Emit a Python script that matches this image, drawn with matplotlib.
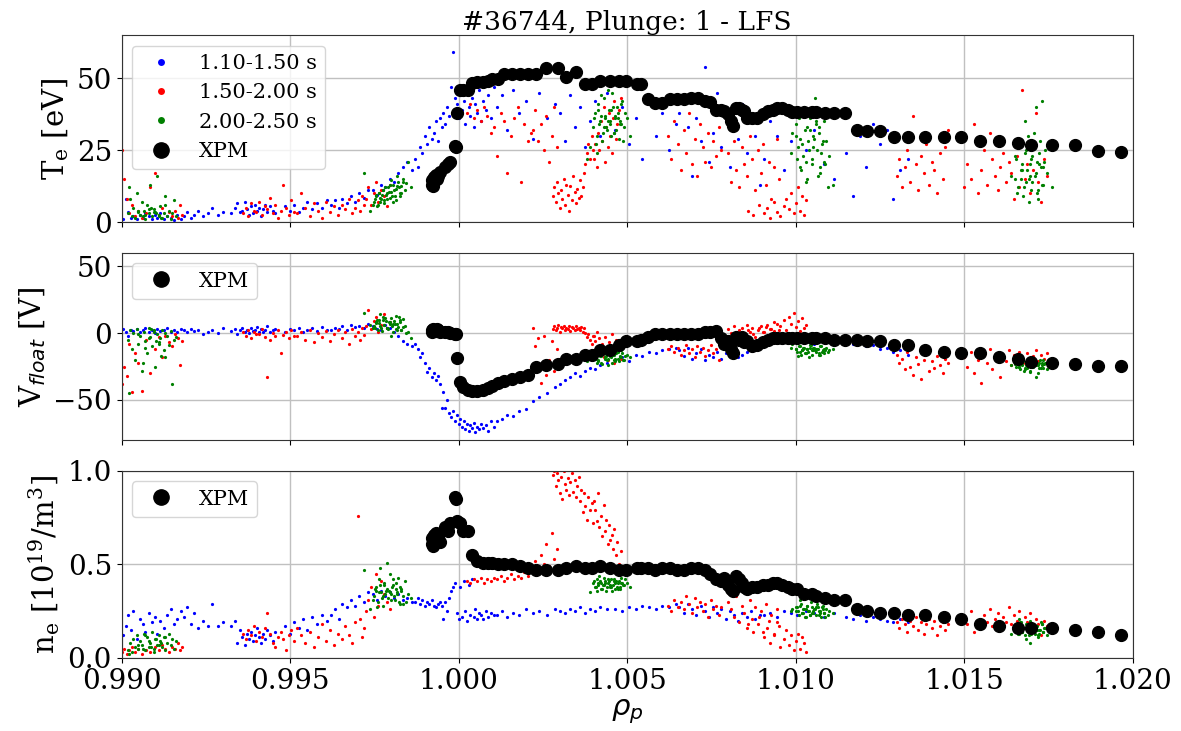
import numpy as np
import matplotlib
matplotlib.use('Agg')
import matplotlib.pyplot as plt

plt.rcParams['font.family'] = 'DejaVu Serif'
plt.rcParams['mathtext.fontset'] = 'custom'
plt.rcParams['mathtext.rm'] = 'DejaVu Serif'
plt.rcParams['mathtext.it'] = 'DejaVu Sans:italic'

# ---- 1.10-1.50 s (blue) ----
b_rho = [0.99005, 0.99012, 0.99020, 0.99028, 0.99035, 0.99045, 0.99055, 0.99062, 0.99070, 0.99080,
         0.99090, 0.99098, 0.99105, 0.99115, 0.99125, 0.99135, 0.99145, 0.99155, 0.99165, 0.99175,
         0.99185, 0.99195, 0.99205, 0.99215, 0.99228, 0.99240, 0.99255, 0.99268, 0.99285, 0.99300,
         0.99325, 0.99335, 0.99342, 0.99350, 0.99358, 0.99365, 0.99372, 0.99378, 0.99385, 0.99390,
         0.99396, 0.99402, 0.99408, 0.99414, 0.99420, 0.99426, 0.99432, 0.99440, 0.99448, 0.99456,
         0.99485, 0.99500, 0.99512, 0.99525, 0.99538, 0.99550, 0.99565, 0.99580, 0.99595, 0.99610,
         0.99620, 0.99632, 0.99645, 0.99655, 0.99668, 0.99680, 0.99692, 0.99705, 0.99718, 0.99730,
         0.99745, 0.99758, 0.99770, 0.99782, 0.99795, 0.99808, 0.99820, 0.99835, 0.99848, 0.99862,
         0.99870, 0.99878, 0.99885, 0.99892, 0.99900, 0.99907, 0.99913, 0.99920, 0.99926, 0.99932,
         0.99938, 0.99944, 0.99950, 0.99955, 0.99960, 0.99966, 0.99972, 0.99978, 0.99984, 0.99990,
         0.99995, 1.00000, 1.00005, 1.00010, 1.00015, 1.00020, 1.00025, 1.00030, 1.00035, 1.00040,
         1.00045, 1.00050, 1.00055, 1.00060, 1.00066, 1.00072, 1.00080, 1.00088, 1.00096, 1.00105,
         1.00115, 1.00130, 1.00145, 1.00160, 1.00180, 1.00200, 1.00220, 1.00240, 1.00262, 1.00285,
         1.00300, 1.00315, 1.00330, 1.00345, 1.00360, 1.00375, 1.00390, 1.00405, 1.00420, 1.00440,
         1.00465, 1.00485, 1.00505, 1.00525, 1.00545, 1.00565, 1.00585, 1.00605, 1.00625, 1.00645,
         1.00655, 1.00668, 1.00680, 1.00692, 1.00705, 1.00718, 1.00730, 1.00742, 1.00755, 1.00768,
         1.00780, 1.00792, 1.00805, 1.00818, 1.00830, 1.00842, 1.00855, 1.00868, 1.00880, 1.00895,
         1.00905, 1.00925, 1.00945, 1.00965, 1.00985, 1.01005, 1.01030, 1.01055, 1.01085, 1.01115,
         1.01150, 1.01170, 1.01190, 1.01210, 1.01230, 1.01250, 1.01270, 1.01290, 1.01310, 1.01335]
b_te = [1.0, 8.0, 3.5, 1.5, 2.0, 1.0, 2.5, 1.5, 3.0, 2.0,
        1.0, 2.5, 1.5, 3.0, 1.0, 2.0, 1.5, 0.8, 2.5, 1.2,
        2.0, 3.5, 1.5, 2.5, 4.0, 2.0, 3.0, 5.0, 2.5, 3.5,
        3.0, 5.0, 6.5, 3.5, 4.0, 7.0, 4.5, 2.5, 5.5, 3.0,
        6.0, 4.0, 5.0, 2.0, 4.5, 6.0, 3.5, 5.5, 4.0, 3.0,
        5.5, 4.0, 6.0, 3.5, 5.0, 7.0, 4.5, 6.5, 5.0, 7.5,
        6.0, 7.5, 5.0, 8.0, 6.5, 9.0, 7.0, 10.0, 8.5, 11.0,
        11.0, 9.5, 13.0, 12.0, 15.0, 14.0, 17.0, 19.0, 21.0, 18.0,
        22.0, 19.0, 26.0, 24.0, 30.0, 27.0, 33.0, 29.0, 31.0, 35.0,
        28.0, 36.0, 33.0, 38.0, 34.0, 40.0, 37.0, 47.0, 59.0, 43.0,
        41.0, 36.0, 44.0, 39.0, 42.0, 34.0, 45.0, 40.0, 37.0, 43.0,
        33.0, 41.0, 38.0, 46.0, 35.0, 42.0, 39.0, 44.0, 36.0, 47.0,
        40.0, 44.0, 32.0, 46.0, 38.0, 42.0, 29.0, 45.0, 36.0, 41.0,
        38.0, 28.0, 44.0, 33.0, 40.0, 26.0, 35.0, 42.0, 30.0, 45.0,
        32.0, 40.0, 27.0, 36.0, 22.0, 44.0, 30.0, 38.0, 25.0, 34.0,
        38.0, 42.0, 33.0, 16.0, 36.0, 28.0, 54.0, 21.0, 31.0, 45.0,
        26.0, 37.0, 19.0, 33.0, 29.0, 41.0, 24.0, 35.0, 30.0, 13.0,
        22.0, 35.0, 30.0, 18.0, 28.0, 37.0, 25.0, 32.0, 20.0, 15.0,
        24.0, 9.0, 30.0, 19.0, 34.0, 27.0, 32.0, 8.0, 18.0, 22.0]
b_vf = [3.0, 1.0, -2.0, 2.5, 1.5, 3.0, 0.5, 2.0, 4.0, 1.0,
        2.5, 0.0, 3.0, 1.5, 2.0, 3.5, 1.0, 2.5, 0.5, 3.0,
        2.0, 0.5, 3.0, 1.5, 2.5, -1.0, 1.0, 2.0, 0.0, 3.5,
        1.5, 3.0, -0.5, 2.0, 4.0, 1.0, 2.5, 0.0, 3.5, 1.5,
        2.0, 4.5, 0.5, 3.0, 1.0, 2.5, 5.0, 0.5, 2.0, 3.0,
        1.0, 3.0, 2.5, 4.0, 0.5, 2.0, 3.5, 1.5, 4.5, 2.0,
        2.0, 4.0, 3.0, 5.5, 2.5, 6.0, 4.5, 5.0, 3.5, 7.0,
        5.0, 3.0, 2.0, 6.0, 4.0, 1.0, -2.0, -6.0, -8.0, -10.0,
        -8.0, -12.0, -18.0, -15.0, -22.0, -29.0, -26.0, -33.0, -30.0, -35.0,
        -32.0, -38.0, -56.0, -44.0, -56.0, -50.0, -60.0, -63.0, -58.0, -66.0,
        -61.0, -68.0, -64.0, -70.0, -66.0, -72.0, -68.0, -73.0, -69.0, -71.0,
        -67.0, -74.0, -70.0, -72.0, -68.0, -71.0, -69.0, -73.0, -66.0, -70.0,
        -66.0, -64.0, -61.0, -62.0, -58.0, -57.0, -51.0, -48.0, -45.0, -40.0,
        -38.0, -35.0, -33.0, -30.0, -32.0, -28.0, -26.0, -27.0, -24.0, -22.0,
        -20.0, -18.0, -21.0, -16.0, -17.0, -14.0, -15.0, -13.0, -12.0, -11.0,
        -13.0, -17.0, -11.0, -19.0, -15.0, -12.0, -20.0, -16.0, -18.0, -14.0,
        -19.0, -15.0, -17.0, -13.0, -18.0, -16.0, -14.0, -12.0, -10.0, -9.0,
        -8.0, -6.0, -5.0, -7.0, -4.0, -6.0, -5.0, -8.0, -7.0, -9.0,
        -6.0, -8.0, -7.0, -10.0, -9.0, -12.0, -11.0, -14.0, -13.0, -16.0]
b_ne = [0.12, 0.17, 0.23, 0.15, 0.25, 0.10, 0.21, 0.18, 0.14, 0.24,
        0.19, 0.22, 0.13, 0.20, 0.16, 0.23, 0.26, 0.18, 0.21, 0.25,
        0.22, 0.27, 0.18, 0.24, 0.16, 0.20, 0.17, 0.29, 0.17, 0.19,
        0.17, 0.20, 0.08, 0.15, 0.11, 0.07, 0.13, 0.10, 0.14, 0.09,
        0.12, 0.16, 0.11, 0.08, 0.13, 0.10, 0.15, 0.12, 0.09, 0.14,
        0.17, 0.13, 0.19, 0.16, 0.21, 0.15, 0.22, 0.18, 0.23, 0.20,
        0.23, 0.26, 0.21, 0.29, 0.27, 0.31, 0.28, 0.33, 0.30, 0.35,
        0.34, 0.31, 0.36, 0.33, 0.35, 0.32, 0.34, 0.31, 0.32, 0.30,
        0.30, 0.32, 0.29, 0.31, 0.28, 0.30, 0.29, 0.31, 0.28, 0.27,
        0.29, 0.30, 0.28, 0.21, 0.30, 0.25, 0.32, 0.36, 0.38, 0.40,
        0.24, 0.21, 0.38, 0.22, 0.41, 0.25, 0.20, 0.39, 0.23, 0.42,
        0.22, 0.26, 0.21, 0.24, 0.23, 0.21, 0.25, 0.22, 0.24, 0.23,
        0.23, 0.25, 0.22, 0.24, 0.23, 0.26, 0.24, 0.25, 0.23, 0.26,
        0.25, 0.24, 0.26, 0.25, 0.27, 0.24, 0.26, 0.25, 0.27, 0.26,
        0.26, 0.25, 0.27, 0.26, 0.28, 0.27, 0.26, 0.28, 0.27, 0.29,
        0.27, 0.24, 0.29, 0.26, 0.23, 0.28, 0.25, 0.22, 0.27, 0.24,
        0.26, 0.21, 0.25, 0.23, 0.20, 0.24, 0.22, 0.25, 0.21, 0.23,
        0.23, 0.24, 0.22, 0.25, 0.24, 0.23, 0.25, 0.24, 0.22, 0.24,
        0.22, 0.21, 0.23, 0.20, 0.22, 0.21, 0.20, 0.19, 0.21, 0.19]

# ---- 1.50-2.00 s (red) ----
r_rho = [0.99002, 0.99008, 0.99015, 0.99022, 0.99030, 0.99040, 0.99050, 0.99060, 0.99072, 0.99085,
         0.99098, 0.99110, 0.99120, 0.99130, 0.99140, 0.99150, 0.99158, 0.99166, 0.99172, 0.99180,
         0.99360, 0.99368, 0.99376, 0.99384, 0.99392, 0.99400, 0.99408, 0.99416, 0.99424, 0.99432,
         0.99440, 0.99448, 0.99456, 0.99464, 0.99472, 0.99480, 0.99488, 0.99496, 0.99504, 0.99512,
         0.99520, 0.99532, 0.99545, 0.99558, 0.99570, 0.99582, 0.99594, 0.99606, 0.99618, 0.99630,
         0.99642, 0.99654, 0.99664, 0.99674, 0.99684, 0.99692, 0.99700, 0.99707, 0.99714, 0.99720,
         0.99725, 0.99732, 0.99740, 0.99748, 0.99755, 0.99762, 0.99770, 0.99778, 0.99786, 0.99795,
         1.00025, 1.00035, 1.00045, 1.00055, 1.00065, 1.00075, 1.00085, 1.00095, 1.00105, 1.00115,
         1.00125, 1.00135, 1.00145, 1.00155, 1.00165, 1.00175, 1.00185, 1.00195, 1.00205, 1.00215,
         1.00220, 1.00228, 1.00236, 1.00244, 1.00252, 1.00260, 1.00268, 1.00276, 1.00284, 1.00292,
         1.00280, 1.00284, 1.00288, 1.00292, 1.00296, 1.00300, 1.00304, 1.00308, 1.00312, 1.00316,
         1.00320, 1.00324, 1.00328, 1.00332, 1.00336, 1.00340, 1.00344, 1.00348, 1.00352, 1.00356,
         1.00360, 1.00364, 1.00368, 1.00372, 1.00376, 1.00380, 1.00385, 1.00390, 1.00395, 1.00400,
         1.00402, 1.00406, 1.00410, 1.00414, 1.00418, 1.00422, 1.00426, 1.00430, 1.00434, 1.00438,
         1.00442, 1.00446, 1.00450, 1.00454, 1.00458, 1.00462, 1.00466, 1.00470, 1.00476, 1.00482,
         1.00620, 1.00630, 1.00640, 1.00650, 1.00660, 1.00668, 1.00676, 1.00684, 1.00692, 1.00700,
         1.00708, 1.00716, 1.00724, 1.00732, 1.00740, 1.00748, 1.00756, 1.00764, 1.00772, 1.00780,
         1.00800, 1.00808, 1.00816, 1.00824, 1.00832, 1.00840, 1.00848, 1.00856, 1.00864, 1.00872,
         1.00880, 1.00888, 1.00896, 1.00904, 1.00912, 1.00920, 1.00928, 1.00936, 1.00944, 1.00952,
         1.00860, 1.00875, 1.00890, 1.00905, 1.00915, 1.00925, 1.00935, 1.00945, 1.00955, 1.00965,
         1.00972, 1.00980, 1.00987, 1.00994, 1.01000, 1.01006, 1.01012, 1.01018, 1.01024, 1.01030,
         1.01300, 1.01308, 1.01316, 1.01324, 1.01332, 1.01340, 1.01348, 1.01356, 1.01364, 1.01372,
         1.01380, 1.01388, 1.01396, 1.01404, 1.01412, 1.01420, 1.01428, 1.01436, 1.01444, 1.01452,
         1.01500, 1.01510, 1.01520, 1.01530, 1.01540, 1.01550, 1.01560, 1.01568, 1.01576, 1.01584,
         1.01592, 1.01600, 1.01608, 1.01616, 1.01624, 1.01632, 1.01640, 1.01648, 1.01656, 1.01664,
         1.01672, 1.01680, 1.01688, 1.01696, 1.01704, 1.01712, 1.01720, 1.01728, 1.01736, 1.01745]
r_te = [25.0, 15.0, 8.0, 3.0, 6.0, 2.0, 4.0, 1.5, 3.0, 12.0,
        17.0, 2.5, 5.0, 27.0, 3.5, 2.0, 4.0, 1.5, 6.0, 2.5,
        3.0, 5.0, 2.0, 6.5, 4.0, 3.5, 7.0, 2.5, 5.5, 4.5,
        8.5, 3.0, 6.0, 1.5, 4.0, 13.0, 5.0, 2.5, 7.5, 3.5,
        3.0, 10.0, 5.0, 2.0, 6.5, 4.0, 1.5, 7.0, 3.5, 5.5,
        2.5, 6.0, 4.5, 8.0, 3.0, 5.0, 7.5, 4.0, 9.0, 6.0,
        8.0, 12.0, 6.0, 10.0, 14.0, 7.0, 11.0, 9.0, 5.5, 13.0,
        38.0, 41.0, 36.0, 39.0, 35.0, 40.0, 37.0, 31.0, 33.0, 23.0,
        38.0, 35.0, 17.0, 30.0, 36.0, 40.0, 14.0, 34.0, 28.0, 31.0,
        32.0, 39.0, 28.0, 34.0, 25.0, 37.0, 21.0, 30.0, 40.0, 26.0,
        9.0, 12.0, 7.0, 14.0, 10.0, 5.0, 11.0, 8.0, 15.0, 6.0,
        13.0, 9.5, 4.0, 12.5, 7.5, 16.0, 10.5, 6.5, 11.5, 8.5,
        14.5, 9.0, 12.0, 17.0, 20.0, 24.0, 27.0, 22.0, 30.0, 25.0,
        22.0, 27.0, 19.0, 31.0, 25.0, 35.0, 28.0, 40.0, 21.0, 33.0,
        26.0, 38.0, 30.0, 24.0, 36.0, 42.0, 29.0, 34.0, 39.0, 43.0,
        30.0, 22.0, 35.0, 27.0, 18.0, 32.0, 24.0, 38.0, 20.0, 29.0,
        16.0, 34.0, 26.0, 21.0, 31.0, 19.0, 28.0, 23.0, 33.0, 25.0,
        24.0, 14.0, 28.0, 18.0, 12.0, 26.0, 20.0, 16.0, 30.0, 22.0,
        11.0, 25.0, 17.0, 27.0, 13.0, 21.0, 8.0, 19.0, 29.0, 15.0,
        4.0, 2.5, 6.0, 3.0, 5.0, 1.5, 7.0, 3.5, 2.0, 5.5,
        8.0, 4.5, 10.0, 3.0, 6.5, 12.0, 4.0, 9.0, 2.5, 7.5,
        16.0, 22.0, 12.0, 19.0, 25.0, 14.0, 37.0, 20.0, 11.0, 23.0,
        17.0, 27.0, 13.0, 21.0, 18.0, 10.0, 24.0, 15.0, 26.0, 32.0,
        12.0, 20.0, 15.0, 34.0, 10.0, 18.0, 25.0, 13.0, 31.0, 22.0,
        16.0, 11.0, 19.0, 24.0, 14.0, 21.0, 17.0, 8.0, 23.0, 12.0,
        46.0, 15.0, 20.0, 10.0, 18.0, 38.0, 14.0, 7.0, 22.0, 16.0]
r_vf = [-38.0, -25.0, -32.0, -8.0, -44.0, -15.0, -22.0, -43.0, -5.0, -30.0,
        -12.0, -3.0, -18.0, -2.0, -7.0, -10.0, -1.0, -4.0, -24.0, -6.0,
        1.0, -2.0, 2.5, -4.0, 0.5, -1.0, -1.0, 3.0, -3.0, -33.0,
        -5.0, 0.0, -2.5, 2.0, -15.0, -1.5, 1.0, -4.0, 2.5, -2.0,
        -2.0, 1.0, -5.0, 2.5, -7.0, 0.0, -3.0, 1.5, -6.0, -1.0,
        2.0, -4.0, 0.5, -8.0, 3.0, -2.5, 1.0, -5.5, 4.0, -1.5,
        5.0, 17.0, 3.0, 9.0, 12.0, 1.0, 6.0, 14.0, 4.0, 8.0,
        -43.0, -42.0, -44.0, -41.0, -40.0, -42.0, -39.0, -40.0, -38.0, -37.0,
        -38.0, -36.0, -37.0, -35.0, -36.0, -34.0, -35.0, -33.0, -34.0, -32.0,
        4.0, -10.0, -4.0, -37.0, -2.0, -31.0, -20.0, -6.0, -28.0, -12.0,
        3.0, 5.0, 2.0, 4.0, 6.0, 1.0, 4.5, 3.5, 5.5, 2.5,
        4.0, 3.0, 5.0, 1.5, 4.5, 3.5, 2.0, 5.0, 3.0, 4.0,
        2.5, 4.5, 1.0, 3.5, 0.0, -3.0, -1.0, -5.0, -8.0, -2.0,
        -2.0, -6.0, 1.0, -10.0, -4.0, -14.0, -8.0, -18.0, -3.0, -12.0,
        -20.0, -7.0, -16.0, -1.0, -11.0, -22.0, -5.0, -13.0, -9.0, -19.0,
        -12.0, -10.0, -14.0, -11.0, -16.0, -13.0, -9.0, -15.0, -12.0, -18.0,
        -10.0, -14.0, -11.0, -17.0, -13.0, -9.0, -15.0, -12.0, -20.0, -10.0,
        3.0, 0.0, 5.0, -2.0, 2.0, 4.0, -1.0, 6.0, 1.0, 3.5,
        -3.0, 2.5, 5.5, 0.5, 4.5, -1.5, 3.0, 1.5, 6.5, 2.0,
        2.0, -1.0, 4.0, 1.0, 6.0, 3.0, 8.0, 0.0, 5.0, 10.0,
        2.5, 12.0, 7.0, 15.0, 4.5, 9.0, 1.5, 11.0, 3.5, 6.0,
        -16.0, -22.0, -19.0, -27.0, -14.0, -25.0, -31.0, -18.0, -23.0, -34.0,
        -20.0, -15.0, -28.0, -21.0, -26.0, -17.0, -24.0, -30.0, -19.0, -22.0,
        -18.0, -25.0, -14.0, -30.0, -20.0, -37.0, -16.0, -22.0, -12.0, -27.0,
        -19.0, -15.0, -33.0, -17.0, -21.0, -13.0, -24.0, -16.0, -19.0, -14.0,
        -18.0, -22.0, -15.0, -20.0, -17.0, -13.0, -21.0, -16.0, -19.0, -15.0]
r_ne = [0.03, 0.05, 0.02, 0.04, 0.06, 0.03, 0.05, 0.02, 0.04, 0.03,
        0.06, 0.04, 0.07, 0.05, 0.03, 0.06, 0.05, 0.08, 0.04, 0.06,
        0.13, 0.10, 0.15, 0.12, 0.17, 0.09, 0.14, 0.11, 0.16, 0.24,
        0.13, 0.08, 0.06, 0.11, 0.14, 0.10, 0.04, 0.12, 0.15, 0.09,
        0.16, 0.12, 0.08, 0.14, 0.06, 0.11, 0.18, 0.09, 0.15, 0.07,
        0.13, 0.10, 0.17, 0.12, 0.08, 0.19, 0.76, 0.21, 0.11, 0.16,
        0.25, 0.31, 0.38, 0.22, 0.45, 0.28, 0.41, 0.34, 0.30, 0.26,
        0.41, 0.40, 0.42, 0.41, 0.43, 0.40, 0.42, 0.41, 0.43, 0.42,
        0.44, 0.41, 0.43, 0.45, 0.42, 0.44, 0.43, 0.46, 0.44, 0.47,
        0.48, 0.52, 0.46, 0.55, 0.50, 0.61, 0.49, 0.67, 0.53, 0.58,
        0.98, 1.00, 0.92, 0.99, 0.95, 0.88, 0.97, 0.85, 1.00, 0.93,
        0.90, 0.96, 0.87, 0.94, 0.99, 0.89, 0.95, 0.86, 0.92, 0.97,
        0.84, 0.90, 0.78, 0.88, 0.81, 0.74, 0.86, 0.79, 0.83, 0.72,
        0.84, 0.79, 0.73, 0.88, 0.70, 0.76, 0.65, 0.82, 0.68, 0.74,
        0.61, 0.71, 0.63, 0.66, 0.58, 0.69, 0.55, 0.62, 0.50, 0.57,
        0.28, 0.25, 0.31, 0.27, 0.30, 0.26, 0.33, 0.29, 0.24, 0.32,
        0.27, 0.30, 0.25, 0.29, 0.22, 0.31, 0.26, 0.28, 0.23, 0.27,
        0.30, 0.26, 0.22, 0.33, 0.19, 0.28, 0.24, 0.16, 0.31, 0.21,
        0.27, 0.18, 0.25, 0.14, 0.29, 0.20, 0.23, 0.12, 0.26, 0.17,
        0.18, 0.14, 0.22, 0.11, 0.16, 0.08, 0.13, 0.19, 0.06, 0.10,
        0.15, 0.07, 0.12, 0.04, 0.09, 0.13, 0.05, 0.11, 0.08, 0.03,
        0.19, 0.16, 0.21, 0.18, 0.14, 0.20, 0.17, 0.22, 0.15, 0.19,
        0.13, 0.18, 0.21, 0.16, 0.20, 0.12, 0.17, 0.19, 0.15, 0.18,
        0.22, 0.18, 0.25, 0.14, 0.20, 0.16, 0.23, 0.19, 0.26, 0.17,
        0.21, 0.24, 0.15, 0.22, 0.19, 0.27, 0.18, 0.23, 0.20, 0.25,
        0.16, 0.22, 0.19, 0.24, 0.14, 0.21, 0.18, 0.12, 0.20, 0.17]

# ---- 2.00-2.50 s (green) ----
g_rho = [0.99020, 0.99025, 0.99030, 0.99035, 0.99040, 0.99045, 0.99050, 0.99055, 0.99060, 0.99065,
         0.99070, 0.99075, 0.99080, 0.99085, 0.99090, 0.99095, 0.99100, 0.99105, 0.99110, 0.99115,
         0.99120, 0.99125, 0.99130, 0.99135, 0.99140, 0.99145, 0.99150, 0.99155, 0.99160, 0.99022,
         0.99048, 0.99068, 0.99088, 0.99102, 0.99118, 0.99128, 0.99062, 0.99082, 0.99096, 0.99112,
         0.99750, 0.99755, 0.99760, 0.99765, 0.99770, 0.99775, 0.99780, 0.99785, 0.99790, 0.99795,
         0.99800, 0.99805, 0.99810, 0.99815, 0.99820, 0.99825, 0.99830, 0.99835, 0.99840, 0.99845,
         0.99752, 0.99758, 0.99763, 0.99768, 0.99773, 0.99778, 0.99783, 0.99788, 0.99793, 0.99798,
         0.99803, 0.99808, 0.99813, 0.99818, 0.99823, 0.99828, 0.99738, 0.99745, 0.99850, 0.99860,
         0.99756, 0.99766, 0.99776, 0.99786, 0.99796, 0.99806, 0.99816, 0.99826, 0.99836, 0.99720,
         1.00400, 1.00405, 1.00410, 1.00415, 1.00420, 1.00425, 1.00430, 1.00435, 1.00440, 1.00445,
         1.00450, 1.00455, 1.00460, 1.00465, 1.00470, 1.00475, 1.00480, 1.00485, 1.00490, 1.00495,
         1.00402, 1.00408, 1.00413, 1.00418, 1.00423, 1.00428, 1.00433, 1.00438, 1.00443, 1.00448,
         1.00453, 1.00458, 1.00463, 1.00468, 1.00473, 1.00478, 1.00483, 1.00488, 1.00500, 1.00510,
         1.00412, 1.00422, 1.00432, 1.00442, 1.00452, 1.00462, 1.00472, 1.00482, 1.00380, 1.00390,
         1.01000, 1.01005, 1.01010, 1.01015, 1.01020, 1.01025, 1.01030, 1.01035, 1.01040, 1.01045,
         1.01050, 1.01055, 1.01060, 1.01065, 1.01070, 1.01075, 1.01080, 1.01085, 1.01090, 1.01095,
         1.01002, 1.01008, 1.01013, 1.01018, 1.01023, 1.01028, 1.01033, 1.01038, 1.01043, 1.01048,
         1.01053, 1.01058, 1.01063, 1.01068, 1.01073, 1.01078, 1.01083, 1.01088, 1.00990, 1.00985,
         1.01012, 1.01022, 1.01032, 1.01042, 1.01052, 1.01062, 1.01072, 1.01082, 1.01100, 1.01110,
         1.01650, 1.01655, 1.01660, 1.01665, 1.01670, 1.01675, 1.01680, 1.01685, 1.01690, 1.01695,
         1.01700, 1.01705, 1.01710, 1.01715, 1.01720, 1.01725, 1.01730, 1.01735, 1.01740, 1.01745,
         1.01652, 1.01658, 1.01663, 1.01668, 1.01673, 1.01678, 1.01683, 1.01688, 1.01693, 1.01698,
         1.01703, 1.01708, 1.01713, 1.01718, 1.01723, 1.01728, 1.01733, 1.01738, 1.01640, 1.01760,
         1.01662, 1.01672, 1.01682, 1.01692, 1.01702, 1.01712, 1.01722, 1.01732, 1.01697, 1.01717]
g_te = [3.0, 8.0, 2.0, 5.0, 1.5, 10.0, 3.5, 2.5, 7.0, 4.0,
        1.0, 6.0, 3.0, 13.0, 2.0, 4.5, 3.5, 16.0, 2.5, 5.5,
        1.5, 3.0, 9.0, 2.0, 4.0, 1.0, 3.0, 7.5, 2.0, 12.0,
        4.0, 2.5, 5.0, 3.0, 1.5, 6.0, 2.0, 4.5, 3.5, 2.0,
        7.0, 9.0, 6.0, 10.0, 8.0, 11.0, 7.5, 9.5, 12.0, 8.5,
        10.5, 13.0, 9.0, 11.5, 14.0, 10.0, 12.5, 15.0, 11.0, 13.5,
        8.0, 5.5, 10.0, 7.0, 9.5, 6.5, 12.0, 8.0, 10.5, 14.5,
        9.0, 11.0, 7.5, 16.0, 12.0, 10.0, 4.0, 6.0, 21.0, 12.0,
        9.5, 8.5, 11.0, 10.0, 13.0, 7.0, 12.5, 9.0, 14.0, 17.0,
        33.0, 38.0, 30.0, 41.0, 35.0, 28.0, 43.0, 36.0, 32.0, 39.0,
        34.0, 45.0, 31.0, 37.0, 40.0, 29.0, 35.0, 42.0, 33.0, 38.0,
        36.0, 27.0, 39.0, 34.0, 44.0, 31.0, 37.0, 33.0, 46.0, 35.0,
        30.0, 40.0, 36.0, 32.0, 38.0, 34.0, 41.0, 28.0, 36.0, 30.0,
        24.0, 37.0, 33.0, 35.0, 39.0, 31.0, 36.0, 34.0, 22.0, 26.0,
        30.0, 22.0, 36.0, 18.0, 27.0, 40.0, 14.0, 33.0, 25.0, 38.0,
        20.0, 29.0, 35.0, 16.0, 31.0, 24.0, 37.0, 21.0, 28.0, 12.0,
        34.0, 26.0, 19.0, 39.0, 23.0, 32.0, 15.0, 28.0, 36.0, 22.0,
        30.0, 43.0, 25.0, 33.0, 17.0, 27.0, 35.0, 20.0, 31.0, 24.0,
        29.0, 38.0, 21.0, 32.0, 26.0, 34.0, 19.0, 28.0, 23.0, 13.0,
        15.0, 22.0, 12.0, 27.0, 18.0, 9.0, 24.0, 14.0, 30.0, 20.0,
        11.0, 26.0, 16.0, 21.0, 8.0, 28.0, 13.0, 19.0, 25.0, 17.0,
        23.0, 10.0, 29.0, 15.0, 20.0, 12.0, 25.0, 18.0, 7.0, 22.0,
        14.0, 31.0, 17.0, 11.0, 24.0, 19.0, 13.0, 21.0, 16.0, 12.0,
        26.0, 18.0, 35.0, 15.0, 23.0, 40.0, 20.0, 42.0, 16.0, 10.0]
g_vf = [-5.0, 2.0, -12.0, 0.0, -20.0, 3.0, -8.0, -2.0, -28.0, 1.0,
        -6.0, -15.0, 4.0, -3.0, -10.0, 0.5, -25.0, -1.0, -7.0, -4.0,
        2.5, -13.0, -18.0, -2.0, -9.0, 1.5, -38.0, -5.0, -3.0, -45.0,
        -1.0, -11.0, 3.0, -6.0, -17.0, 0.0, -22.0, -4.0, 2.0, -8.0,
        5.0, 8.0, 2.0, 10.0, 4.0, 12.0, 6.0, 9.0, 3.0, 7.0,
        11.0, 1.0, 6.5, 13.0, 4.5, 8.5, 2.5, 10.5, 5.5, 0.0,
        3.5, 9.5, 7.5, 14.0, 1.5, 6.0, 11.5, 4.0, 8.0, -2.0,
        5.0, 9.0, 3.0, 7.0, 12.0, 2.0, 6.0, 4.0, 1.0, -4.0,
        7.5, 5.5, 10.0, 3.5, 8.5, 6.5, 2.5, 9.5, 4.5, 15.0,
        -16.0, -19.0, -14.0, -21.0, -17.0, -23.0, -15.0, -18.0, -20.0, -13.0,
        -17.0, -22.0, -16.0, -19.0, -14.0, -21.0, -18.0, -15.0, -20.0, -17.0,
        -18.0, -13.0, -20.0, -16.0, -22.0, -15.0, -19.0, -17.0, -24.0, -14.0,
        -18.0, -16.0, -21.0, -15.0, -19.0, -17.0, -13.0, -20.0, -16.0, -18.0,
        -22.0, -17.0, -15.0, -19.0, -16.0, -20.0, -14.0, -18.0, -21.0, -19.0,
        -12.0, -14.0, -10.0, -16.0, -13.0, -11.0, -15.0, -12.0, -18.0, -9.0,
        -13.0, -11.0, -14.0, -12.0, -16.0, -10.0, -13.0, -15.0, -11.0, -14.0,
        -12.0, -17.0, -10.0, -13.0, -11.0, -15.0, -12.0, -14.0, -9.0, -16.0,
        -11.0, -13.0, -12.0, -15.0, -10.0, -14.0, -12.0, -13.0, -8.0, -11.0,
        -14.0, -12.0, -15.0, -11.0, -13.0, -12.0, -16.0, -14.0, -13.0, -12.0,
        -22.0, -25.0, -20.0, -27.0, -23.0, -21.0, -26.0, -24.0, -19.0, -28.0,
        -22.0, -25.0, -21.0, -23.0, -30.0, -20.0, -24.0, -26.0, -22.0, -27.0,
        -23.0, -21.0, -25.0, -19.0, -24.0, -28.0, -22.0, -26.0, -20.0, -23.0,
        -25.0, -21.0, -33.0, -24.0, -22.0, -26.0, -20.0, -23.0, -24.0, -21.0,
        -25.0, -22.0, -27.0, -23.0, -21.0, -24.0, -26.0, -22.0, -29.0, -23.0]
g_ne = [0.04, 0.08, 0.03, 0.10, 0.06, 0.12, 0.05, 0.09, 0.07, 0.13,
        0.04, 0.11, 0.06, 0.08, 0.14, 0.05, 0.10, 0.07, 0.12, 0.09,
        0.06, 0.11, 0.04, 0.08, 0.13, 0.07, 0.10, 0.05, 0.09, 0.02,
        0.07, 0.12, 0.06, 0.10, 0.08, 0.11, 0.05, 0.09, 0.03, 0.07,
        0.33, 0.38, 0.30, 0.42, 0.35, 0.28, 0.40, 0.36, 0.32, 0.45,
        0.34, 0.39, 0.31, 0.37, 0.43, 0.29, 0.36, 0.33, 0.41, 0.30,
        0.37, 0.27, 0.35, 0.48, 0.32, 0.39, 0.34, 0.51, 0.36, 0.31,
        0.38, 0.33, 0.40, 0.35, 0.30, 0.37, 0.26, 0.31, 0.34, 0.32,
        0.36, 0.39, 0.33, 0.37, 0.35, 0.42, 0.34, 0.38, 0.29, 0.47,
        0.40, 0.38, 0.42, 0.39, 0.41, 0.37, 0.43, 0.40, 0.38, 0.41,
        0.39, 0.36, 0.42, 0.40, 0.38, 0.41, 0.37, 0.40, 0.39, 0.42,
        0.41, 0.38, 0.40, 0.44, 0.37, 0.39, 0.41, 0.36, 0.40, 0.38,
        0.42, 0.39, 0.37, 0.41, 0.40, 0.38, 0.43, 0.39, 0.40, 0.38,
        0.36, 0.40, 0.39, 0.42, 0.38, 0.41, 0.37, 0.40, 0.46, 0.35,
        0.25, 0.27, 0.23, 0.29, 0.24, 0.26, 0.22, 0.28, 0.25, 0.30,
        0.24, 0.26, 0.23, 0.27, 0.25, 0.22, 0.28, 0.24, 0.26, 0.23,
        0.27, 0.25, 0.31, 0.24, 0.26, 0.22, 0.28, 0.25, 0.23, 0.27,
        0.24, 0.26, 0.29, 0.23, 0.25, 0.27, 0.24, 0.22, 0.26, 0.25,
        0.28, 0.24, 0.26, 0.23, 0.25, 0.27, 0.24, 0.26, 0.25, 0.24,
        0.15, 0.17, 0.13, 0.19, 0.14, 0.16, 0.12, 0.18, 0.15, 0.20,
        0.14, 0.16, 0.13, 0.17, 0.11, 0.15, 0.18, 0.14, 0.16, 0.12,
        0.17, 0.15, 0.13, 0.19, 0.14, 0.16, 0.10, 0.15, 0.18, 0.13,
        0.16, 0.14, 0.17, 0.12, 0.15, 0.19, 0.14, 0.16, 0.13, 0.15,
        0.21, 0.14, 0.16, 0.12, 0.17, 0.15, 0.13, 0.18, 0.08, 0.15]

# ---- XPM (black) ----
x_rho = [0.99920, 0.99922, 0.99925, 0.99928, 0.99932, 0.99936, 0.99940, 0.99945, 0.99960, 0.99968,
         0.99975, 0.99988, 0.99992, 0.99996,
         1.00003, 1.00012, 1.00027, 1.00041, 1.00056, 1.00071, 1.00086, 1.00098, 1.00116, 1.00136,
         1.00157, 1.00181, 1.00205, 1.00231, 1.00258, 1.00294, 1.00320, 1.00347, 1.00374, 1.00397,
         1.00421, 1.00448, 1.00475, 1.00498, 1.00528, 1.00540, 1.00561, 1.00584, 1.00605, 1.00626,
         1.00647, 1.00670, 1.00691, 1.00709, 1.00730, 1.00745, 1.00765, 1.00780, 1.00789, 1.00798,
         1.00807, 1.00813, 1.00822, 1.00831, 1.00840, 1.00848, 1.00857, 1.00872, 1.00884, 1.00902,
         1.00917, 1.00932, 1.00946, 1.00961, 1.00976, 1.00988, 1.01003, 1.01026, 1.01050, 1.01062,
         1.01086, 1.01115, 1.01148, 1.01181, 1.01213, 1.01249, 1.01291, 1.01335, 1.01383, 1.01439,
         1.01492, 1.01546, 1.01605, 1.01661, 1.01700, 1.01762, 1.01828, 1.01896, 1.01967]
x_te = [13.0, 14.5, 12.5, 15.5, 16.5, 15.0, 16.0, 17.5, 19.0, 20.0,
        21.0, 26.5, 26.0, 37.8,
        46.0, 46.0, 46.0, 48.2, 48.6, 48.6, 49.0, 49.6, 49.6, 51.3,
        51.3, 51.3, 51.3, 51.3, 53.4, 53.4, 50.3, 52.1, 47.9, 47.9,
        48.9, 48.9, 48.9, 48.9, 47.9, 47.9, 42.7, 41.3, 41.3, 42.7,
        42.7, 42.7, 43.0, 43.0, 42.0, 41.6, 38.9, 38.9, 38.5, 37.5,
        35.0, 33.5, 39.5, 39.5, 38.9, 38.5, 36.0, 36.0, 36.0, 37.5,
        38.5, 39.0, 39.6, 39.6, 39.0, 38.2, 38.2, 38.2, 38.2, 38.2,
        37.8, 37.8, 37.8, 31.9, 31.6, 31.6, 29.5, 29.5, 29.5, 29.5,
        29.5, 28.1, 28.1, 27.4, 26.7, 26.7, 26.7, 24.6, 24.3]
x_vf = [2.0, 1.0, 3.0, 2.5, 1.5, 3.0, 2.0, 0.5, 1.0, 0.5,
        0.0, -1.0, -0.5, -18.7,
        -36.6, -40.0, -42.5, -43.5, -43.0, -42.5, -41.0, -39.5, -37.5, -36.0,
        -34.5, -33.0, -31.5, -25.0, -24.0, -23.0, -19.0, -19.0, -16.0, -16.0,
        -12.7, -12.7, -8.7, -6.2, -6.2, -5.3, -3.0, -0.5, -0.5, -0.8,
        -1.0, -1.0, -0.8, -1.0, 0.5, 1.0, 1.3, -4.0, -8.0, -6.0,
        -12.0, -14.5, -3.0, -5.0, -3.0, -7.0, -6.0, -10.0, -9.0, -7.0,
        -5.0, -4.0, -3.7, -3.7, -3.7, -3.7, -4.0, -4.0, -3.7, -3.7,
        -3.7, -5.0, -5.0, -5.0, -6.2, -6.2, -8.7, -8.7, -12.7, -13.9,
        -14.7, -14.7, -18.2, -19.7, -21.4, -22.7, -23.2, -24.4, -24.4]
x_ne = [0.61, 0.64, 0.60, 0.66, 0.67, 0.63, 0.65, 0.62, 0.70, 0.68,
        0.72, 0.86, 0.85, 0.73,
        0.72, 0.68, 0.68, 0.55, 0.52, 0.51, 0.51, 0.51, 0.50, 0.50,
        0.50, 0.49, 0.48, 0.47, 0.47, 0.47, 0.48, 0.49, 0.48, 0.48,
        0.49, 0.48, 0.47, 0.47, 0.48, 0.48, 0.48, 0.47, 0.48, 0.48,
        0.47, 0.47, 0.48, 0.48, 0.47, 0.45, 0.42, 0.41, 0.43, 0.39,
        0.37, 0.36, 0.44, 0.42, 0.40, 0.38, 0.37, 0.38, 0.38, 0.39,
        0.39, 0.40, 0.40, 0.39, 0.38, 0.37, 0.37, 0.34, 0.34, 0.33,
        0.32, 0.31, 0.31, 0.26, 0.25, 0.24, 0.24, 0.23, 0.23, 0.22,
        0.21, 0.18, 0.17, 0.16, 0.16, 0.16, 0.15, 0.14, 0.12]

labels = ['1.10-1.50 s', '1.50-2.00 s', '2.00-2.50 s']

fig, axs = plt.subplots(3, 1, sharex=True, figsize=(11.81, 7.31), dpi=100)
fig.subplots_adjust(left=0.103, right=0.959, top=0.952, bottom=0.100, hspace=0.166)

groups = [(b_rho, b_te, b_vf, b_ne, 'blue'),
          (r_rho, r_te, r_vf, r_ne, 'red'),
          (g_rho, g_te, g_vf, g_ne, 'green')]

for k, ax in enumerate(axs):
    for (rho, te, vf, ne, col), lab in zip(groups, labels):
        y = [te, vf, ne][k]
        ax.plot(rho, y, 'o', color=col, ms=2.3, mew=0, label=lab if k == 0 else None)
    ax.plot(x_rho, [x_te, x_vf, x_ne][k], 'o', color='black', ms=8.5, label='XPM')
    ax.grid(True, color='#c0c0c0', lw=1)
    ax.set_axisbelow(True)
    ax.tick_params(labelsize=20)
    for s in ax.spines.values():
        s.set_color('#333333')

axs[0].set_ylim(0, 65)
axs[0].set_yticks([0, 25, 50])
axs[0].set_ylabel(r'T$_\mathrm{e}$ [eV]', fontsize=21)
axs[0].set_title('#36744, Plunge: 1 - LFS', fontsize=19, pad=4)

axs[1].set_ylim(-80, 60)
axs[1].set_yticks([-50, 0, 50])
axs[1].set_ylabel(r'V$_{float}$ [V]', fontsize=21)

axs[2].set_ylim(0, 1.0)
axs[2].set_yticks([0.0, 0.5, 1.0])
axs[2].set_ylabel(r'n$_\mathrm{e}$ [10$^{19}$/m$^3$]', fontsize=21)

axs[2].set_xlim(0.990, 1.020)
axs[2].set_xticks([0.990, 0.995, 1.000, 1.005, 1.010, 1.015, 1.020])
axs[2].set_xticklabels(['0.990', '0.995', '1.000', '1.005', '1.010', '1.015', '1.020'])
axs[2].set_xlabel(r'$\rho_p$', fontsize=21, labelpad=2)

for ax in axs:
    leg = ax.legend(loc='upper left', fontsize=15)
    for h in leg.legend_handles:
        if h.get_color() == 'black':
            h.set_markersize(11)
        else:
            h.set_markersize(5)

fig.savefig('out.png', dpi=100)
